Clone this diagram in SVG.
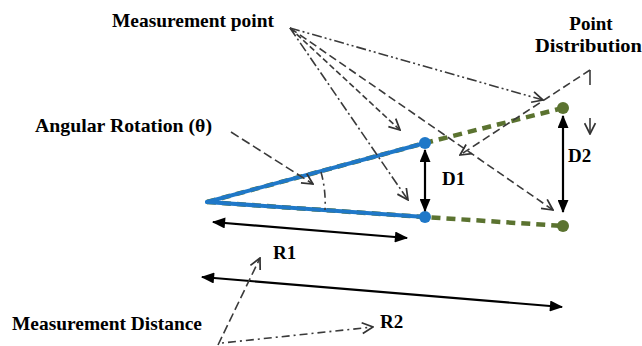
<svg xmlns="http://www.w3.org/2000/svg" width="642" height="346" viewBox="0 0 642 346">
<defs>
<marker id="fill" viewBox="0 0 12 10" refX="11" refY="5" markerWidth="14" markerHeight="11" markerUnits="userSpaceOnUse" orient="auto-start-reverse">
<path d="M0,0 L12,5 L0,10 Z" fill="#000"/>
</marker>
<marker id="open" viewBox="0 0 12 12" refX="11" refY="6" markerWidth="13" markerHeight="13" markerUnits="userSpaceOnUse" orient="auto">
<path d="M1,1 L11,6 L1,11" fill="none" stroke="#333" stroke-width="1.6"/>
</marker>
</defs>
<style>
.t{font-family:"Liberation Serif","Times New Roman",serif;font-weight:bold;font-size:19px;fill:#000}
.dim{stroke:#000;stroke-width:2.2;fill:none;marker-start:url(#fill);marker-end:url(#fill)}
.call{stroke:#3a3a3a;stroke-width:1.6;fill:none;marker-end:url(#open)}
.green{stroke:#5b7330;stroke-width:4.5;fill:none;stroke-dasharray:9 6}
.blue{stroke:#1f78c8;stroke-width:4;fill:none;stroke-linecap:round}
</style>
<rect width="642" height="346" fill="#fff"/>

<g id="lines">
<path class="green" d="M207,202 L425,143 L563,108"/>
<path class="green" d="M207,202 L425,217 L563,226"/>
<path class="blue" d="M207,202 L425,143"/>
<path class="blue" d="M207,202 L425,217"/>
</g>

<g id="points">
<circle id="p1" cx="425" cy="143" r="6" fill="#1f78c8"/>
<circle id="p2" cx="425" cy="217" r="6" fill="#1f78c8"/>
<circle id="p3" cx="563" cy="108" r="6" fill="#5b7330"/>
<circle id="p4" cx="563" cy="226" r="6" fill="#5b7330"/>
</g>

<g id="connectors">
<line class="dim" x1="425" y1="150" x2="425" y2="211"/>
<line class="dim" x1="563" y1="116" x2="563" y2="212"/>
<line class="dim" x1="213" y1="222" x2="407" y2="238"/>
<line class="dim" x1="202" y1="277" x2="562" y2="307"/>
<path class="call" d="M290,28 L543,100" stroke-dasharray="10 3 2 3 2 3"/>
<path class="call" d="M290,28 L400,130" stroke-dasharray="6 3"/>
<path class="call" d="M290,28 L408,200" stroke-dasharray="10 3 2 3"/>
<path class="call" d="M290,28 L553,210" stroke-dasharray="8 4"/>
<path class="call" d="M231,132 L313,184" stroke-dasharray="9 4"/>
<path d="M321,172 A118,118 0 0 1 325,210" stroke="#3a3a3a" stroke-width="1.6" fill="none" stroke-dasharray="8 4 2 4"/>
<path class="call" d="M590,70 L460,155" stroke-dasharray="8 4"/>
<path d="M590,70 L590,85" stroke="#3a3a3a" stroke-width="1.6"/>
<path class="call" d="M590,118 L590,134"/>
<path class="call" d="M218,345 L260,258" stroke-dasharray="9 4"/>
<path class="call" d="M222,343 L373,327" stroke-dasharray="2 4 8 4"/>
</g>

<g id="labels">
<text class="t" x="112" y="27" textLength="162" lengthAdjust="spacingAndGlyphs">Measurement point</text>
<text class="t" x="35" y="132" textLength="177" lengthAdjust="spacingAndGlyphs">Angular Rotation (θ)</text>
<text class="t" x="591" y="30" text-anchor="middle">Point</text>
<text class="t" x="535" y="52" textLength="107" lengthAdjust="spacingAndGlyphs">Distribution</text>
<text class="t" x="12" y="330" textLength="190" lengthAdjust="spacingAndGlyphs">Measurement Distance</text>
<text class="t" x="442" y="185">D1</text>
<text class="t" x="568" y="162">D2</text>
<text class="t" x="273" y="259">R1</text>
<text class="t" x="380" y="328">R2</text>
</g>
</svg>
